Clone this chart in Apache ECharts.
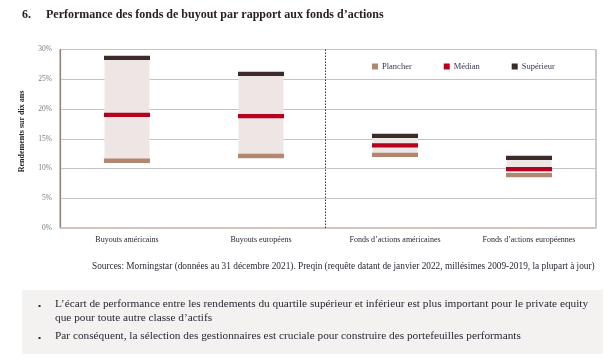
<!DOCTYPE html>
<html><head><meta charset="utf-8">
<script src="https://cdn.jsdelivr.net/npm/echarts@6/dist/echarts.min.js"></script>
<style>html,body{margin:0;padding:0;background:#fff}#c{width:612px;height:360px}</style>
</head><body><div id="c"></div>
<script>
const categories = ['Buyouts américains','Buyouts européens','Fonds d\u2019actions américaines','Fonds d\u2019actions européennes'];
const plancher = [11.3, 12.1, 12.3, 8.9];
const median = [19.0, 18.8, 13.9, 9.9];
const superieur = [28.6, 25.9, 15.5, 11.8];
const yTicks = [0, 5, 10, 15, 20, 25, 30];

const FONT = '"Liberation Serif", "DejaVu Serif", serif';
const chart = echarts.init(document.getElementById('c'));
const band = (name, data, color) => ({
  name, type: 'scatter', data, symbol: 'rect', symbolSize: [46, 4.3],
  itemStyle: { color, opacity: 1 }, z: 5, silent: true
});
chart.setOption({
  animation: false,
  textStyle: { fontFamily: FONT },
  grid: { left: 60, right: 16, top: 49.5, bottom: 132, show: true, borderColor: '#9a918c', borderWidth: 1 },
  legend: {
    left: 367, top: 57, itemWidth: 6, itemHeight: 6, itemGap: 32, icon: 'rect',
    data: ['Plancher', 'Médian', 'Supérieur'],
    itemStyle: { opacity: 1 },
    textStyle: { fontFamily: FONT, fontSize: 8.5, color: '#3a3550', padding: [0, 0, 0, -1] }
  },
  xAxis: {
    type: 'category', data: categories,
    axisLine: { lineStyle: { color: '#d6c4b8', width: 1.5 } },
    axisTick: { show: false },
    axisLabel: { fontFamily: FONT, fontSize: 8, color: '#2b2733', margin: 8 }
  },
  yAxis: {
    type: 'value', min: yTicks[0], max: yTicks[yTicks.length - 1], interval: 5,
    axisLine: { show: true, lineStyle: { color: '#8e837c', width: 1.2 } },
    axisTick: { show: false },
    axisLabel: { fontFamily: FONT, fontSize: 7.5, color: '#7d7a7a', margin: 8, formatter: v => v + '%' },
    splitLine: { lineStyle: { color: '#c4c4c4', width: 1 } }
  },
  series: [
    { type: 'bar', stack: 'r', data: plancher, barWidth: 45, itemStyle: { color: 'transparent' }, silent: true },
    { type: 'bar', stack: 'r', data: superieur.map((v, i) => +(v - plancher[i]).toFixed(2)), barWidth: 45,
      itemStyle: { color: '#ede6e4' }, silent: true },
    band('Plancher', plancher, '#b3866f'),
    band('Médian', median, '#b5001e'),
    band('Supérieur', superieur, '#3b2b29')
  ]
});

const p1 = chart.convertToPixel({ xAxisIndex: 0 }, categories[1]);
const p2 = chart.convertToPixel({ xAxisIndex: 0 }, categories[2]);
const yTop = chart.convertToPixel({ yAxisIndex: 0 }, yTicks[yTicks.length - 1]);
const yBot = chart.convertToPixel({ yAxisIndex: 0 }, yTicks[0]);
const xd = Math.round((p1 + p2) / 2) - 2.5;
const TXT = '#2b2733';

chart.setOption({
  graphic: [
    { type: 'line', shape: { x1: xd, y1: yTop, x2: xd, y2: yBot },
      style: { stroke: '#3a3035', lineWidth: 1, lineDash: [1.5, 1.5] }, z: 10 },
    { type: 'text', x: 22, y: 131.5, rotation: Math.PI / 2,
      style: { text: 'Rendements sur dix ans', font: 'bold 8px ' + FONT, fill: '#2b2226', align: 'center', verticalAlign: 'middle' } },
    { type: 'text', left: 22, top: 9, style: { text: '6.', font: 'bold 12px ' + FONT, fill: '#2a2024' } },
    { type: 'text', left: 46, top: 9, style: { text: 'Performance des fonds de buyout par rapport aux fonds d\u2019actions', font: 'bold 12px ' + FONT, fill: '#2a2024' } },
    { type: 'text', left: 92, top: 262, style: { text: 'Sources: Morningstar (données au 31 décembre 2021). Preqin (requête datant de janvier 2022, millésimes 2009-2019, la plupart à jour)', font: '9.3px ' + FONT, fill: TXT } },
    { type: 'rect', shape: { x: 22, y: 290, width: 581, height: 64 }, style: { fill: '#f3f2f1' }, z: 0 },
    { type: 'rect', shape: { x: 38.5, y: 305, width: 2, height: 2 }, style: { fill: TXT } },
    { type: 'rect', shape: { x: 38.5, y: 337, width: 2, height: 2 }, style: { fill: TXT } },
    { type: 'text', left: 55, top: 299, style: { text: 'L\u2019écart de performance entre les rendements du quartile supérieur et inférieur est plus important pour le private equity', font: '11.3px ' + FONT, fill: TXT } },
    { type: 'text', left: 55, top: 312.5, style: { text: 'que pour toute autre classe d\u2019actifs', font: '11.3px ' + FONT, fill: TXT } },
    { type: 'text', left: 55, top: 331, style: { text: 'Par conséquent, la sélection des gestionnaires est cruciale pour construire des portefeuilles performants', font: '11.3px ' + FONT, fill: TXT } }
  ]
});
</script></body></html>
